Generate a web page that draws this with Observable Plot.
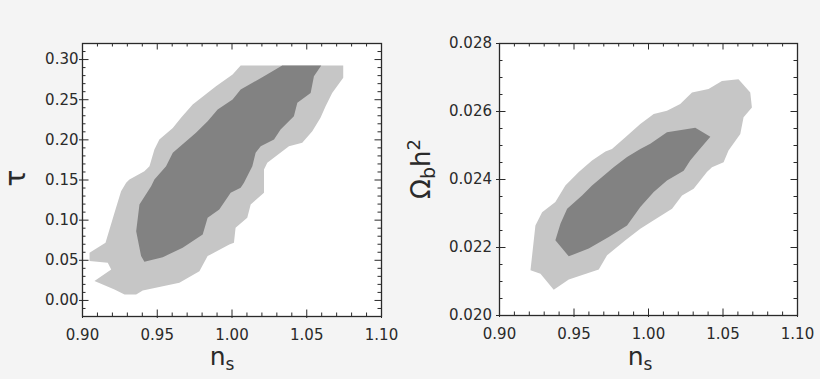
<!DOCTYPE html>
<html><head><meta charset="utf-8">
<script src="https://cdn.jsdelivr.net/npm/d3@7"></script>
<script src="https://cdn.jsdelivr.net/npm/@observablehq/plot@0.6"></script>
<style>
html,body{margin:0;padding:0;background:#f4f4f4;}
#wrap{position:relative;width:820px;height:379px;overflow:hidden;}
#wrap svg{position:absolute;top:0;}
</style></head><body><div id="wrap"></div>
<script>
const nsTicks = [0.90, 0.95, 1.00, 1.05, 1.10];
const tauTicks = [0.00, 0.05, 0.10, 0.15, 0.20, 0.25, 0.30];
const obTicks = [0.020, 0.022, 0.024, 0.026, 0.028];

// 68% (inner) and 95% (outer) regions, [n_s, tau]
const tauOuter = [
[1.0058,0.2925],[1.0744,0.2925],[1.0744,0.2772],[1.0670,0.2585],[1.0626,0.2419],[1.0592,0.2274],[1.0537,0.2108],[1.0470,0.1963],[1.0381,0.1921],[1.0236,0.1714],[1.0214,0.1631],[1.0214,0.1340],[1.0125,0.1195],[1.0102,0.1029],[1.0024,0.0905],[1.0013,0.0718],[0.9982,0.0697],[0.9837,0.0552],[0.9782,0.0365],[0.9648,0.0220],[0.9403,0.0124],[0.9359,0.0075],[0.9281,0.0075],[0.9214,0.0137],[0.9080,0.0241],[0.9192,0.0386],[0.9169,0.0469],[0.9047,0.0490],[0.9047,0.0593],[0.9154,0.0718],[0.9214,0.1091],[0.9258,0.1361],[0.9292,0.1465],[0.9314,0.1506],[0.9414,0.1610],[0.9448,0.1672],[0.9481,0.1880],[0.9514,0.2004],[0.9604,0.2149],[0.9659,0.2274],[0.9737,0.2440],[0.9893,0.2668],[1.0004,0.2813]
];
const tauInner = [
[1.0336,0.2925],[1.0597,0.2925],[1.0548,0.2793],[1.0526,0.2585],[1.0437,0.2461],[1.0414,0.2295],[1.0325,0.2129],[1.0281,0.2004],[1.0192,0.1921],[1.0158,0.1838],[1.0136,0.1672],[1.0080,0.1465],[1.0058,0.1402],[0.9991,0.1340],[0.9915,0.1133],[0.9837,0.1029],[0.9804,0.0822],[0.9670,0.0656],[0.9537,0.0539],[0.9414,0.0481],[0.9392,0.0552],[0.9359,0.0863],[0.9381,0.1195],[0.9459,0.1423],[0.9481,0.1506],[0.9559,0.1672],[0.9604,0.1838],[0.9759,0.2087],[0.9837,0.2232],[0.9904,0.2378],[1.0004,0.2502],[1.0058,0.2627],[1.0214,0.2793]
];
// [n_s, Omega_b h^2]
const obOuter = [
[0.9208,0.02133],[0.9241,0.02265],[0.9286,0.02304],[0.9375,0.02334],[0.9442,0.02382],[0.9532,0.02422],[0.9621,0.02456],[0.9711,0.02482],[0.9755,0.02490],[0.9845,0.02524],[0.9945,0.02563],[1.0035,0.02593],[1.0124,0.02602],[1.0213,0.02622],[1.0292,0.02656],[1.0403,0.02666],[1.0493,0.02690],[1.0604,0.02695],[1.0683,0.02656],[1.0694,0.02612],[1.0638,0.02583],[1.0616,0.02534],[1.0537,0.02485],[1.0504,0.02451],[1.0426,0.02436],[1.0392,0.02422],[1.0347,0.02397],[1.0303,0.02373],[1.0225,0.02353],[1.0158,0.02314],[1.0035,0.02280],[0.9945,0.02255],[0.9845,0.02221],[0.9722,0.02177],[0.9666,0.02135],[0.9465,0.02106],[0.9364,0.02076],[0.9275,0.02123]
];
const obInner = [
[0.9375,0.02221],[0.9409,0.02270],[0.9454,0.02314],[0.9554,0.02353],[0.9621,0.02382],[0.9766,0.02436],[0.9856,0.02466],[0.9945,0.02490],[1.0012,0.02505],[1.0124,0.02539],[1.0314,0.02552],[1.0415,0.02526],[1.0336,0.02485],[1.0280,0.02456],[1.0236,0.02426],[1.0124,0.02397],[1.0035,0.02363],[0.9945,0.02319],[0.9856,0.02265],[0.9733,0.02231],[0.9599,0.02197],[0.9465,0.02174]
];

const LIGHT = "#c6c6c6", DARK = "#828282", INK = "#2a2a2a";
const W = 410, H = 379;

function minors(lo, hi, step, majors) {
  const n = Math.round((hi - lo) / step);
  const out = [];
  for (let i = 0; i <= n; i++) {
    const v = +(lo + i * step).toFixed(6);
    if (!majors.some(m => Math.abs(m - v) < step / 10)) out.push(v);
  }
  return out;
}

function panel(o) {
  const ph = H - o.mt - o.mb, pw = W - o.ml - o.mr;
  const xMinor = minors(0.90, 1.10, 0.01, nsTicks);
  const yMinor = minors(o.yMinorLo, o.yMinorHi, o.yStep, o.yTicks);
  const mn = 3.5, mj = 6.5;
  const tk = {stroke: INK, strokeWidth: 1};
  return Plot.plot({
    width: W, height: H,
    marginLeft: o.ml, marginRight: o.mr, marginTop: o.mt, marginBottom: o.mb,
    style: {fontFamily: "DejaVu Sans", fontSize: "15px", background: "transparent", color: INK, overflow: "visible"},
    x: {domain: [0.90, 1.10]},
    y: {domain: o.yDomain},
    marks: [
      Plot.frame({fill: "white", stroke: null}),
      Plot.line(o.outer, {x: d => d[0], y: d => d[1], fill: LIGHT, stroke: "none"}),
      Plot.line(o.inner, {x: d => d[0], y: d => d[1], fill: DARK, stroke: "none"}),
      Plot.tickX(xMinor, {x: d => d, insetTop: ph - mn, ...tk}),
      Plot.tickX(xMinor, {x: d => d, insetBottom: ph - mn, ...tk}),
      Plot.tickX(nsTicks, {x: d => d, insetTop: ph - mj, insetBottom: -2, ...tk}),
      Plot.tickX(nsTicks, {x: d => d, insetBottom: ph - mj, ...tk}),
      Plot.tickY(yMinor, {y: d => d, insetRight: pw - mn, ...tk}),
      Plot.tickY(yMinor, {y: d => d, insetLeft: pw - mn, ...tk}),
      Plot.tickY(o.yTicks, {y: d => d, insetRight: pw - mj, insetLeft: -3, ...tk}),
      Plot.tickY(o.yTicks, {y: d => d, insetLeft: pw - mj, ...tk}),
      Plot.frame({stroke: INK, strokeWidth: 1.3}),
      Plot.axisX(nsTicks, {tickSize: 0, tickPadding: 13, tickFormat: d => d.toFixed(2), label: null, fontSize: 15}),
      Plot.axisY(o.yTicks, {tickSize: 0, tickPadding: o.yPad, tickFormat: o.yFmt, label: null, fontSize: 15})
    ]
  });
}

const wrap = document.getElementById("wrap");

const left = panel({
  ml: 82, mr: 29, mt: 43, mb: 63,
  yDomain: [-0.02, 0.32], yTicks: tauTicks, yMinorLo: -0.02, yMinorHi: 0.32, yStep: 0.01,
  yPad: 4, yFmt: d => d.toFixed(2), outer: tauOuter, inner: tauInner
});
left.style.left = "0px";
wrap.appendChild(left);

const right = panel({
  ml: 89, mr: 23, mt: 43, mb: 64,
  yDomain: [0.020, 0.028], yTicks: obTicks, yMinorLo: 0.020, yMinorHi: 0.028, yStep: 0.0005,
  yPad: 7.5, yFmt: d => d.toFixed(3), outer: obOuter, inner: obInner
});
right.style.left = "410px";
wrap.appendChild(right);

// axis titles with sub/superscripts
function nsLabel(svg, x) {
  const t = d3.select(svg).append("text")
    .attr("x", x).attr("y", 365)
    .attr("fill", INK).attr("font-family", "DejaVu Sans").attr("font-size", 25);
  t.append("tspan").text("n");
  t.append("tspan").attr("font-size", 17).attr("dy", 5).text("s");
}
nsLabel(left, 222);
nsLabel(right, 230);

d3.select(left).append("text")
  .attr("transform", "translate(25,178) rotate(-90)")
  .attr("text-anchor", "middle")
  .attr("fill", INK).attr("font-family", "DejaVu Sans").attr("font-size", 28)
  .text("τ");

const om = d3.select(right).append("text")
  .attr("transform", "translate(20,169) rotate(-90)")
  .attr("text-anchor", "middle")
  .attr("fill", INK).attr("font-family", "DejaVu Sans").attr("font-size", 26);
om.append("tspan").text("Ω");
om.append("tspan").attr("font-size", 19).attr("dy", 5).text("b");
om.append("tspan").attr("font-size", 26).attr("dy", -5).text("h");
om.append("tspan").attr("font-size", 18).attr("dy", -10).text("2");
</script></body></html>
